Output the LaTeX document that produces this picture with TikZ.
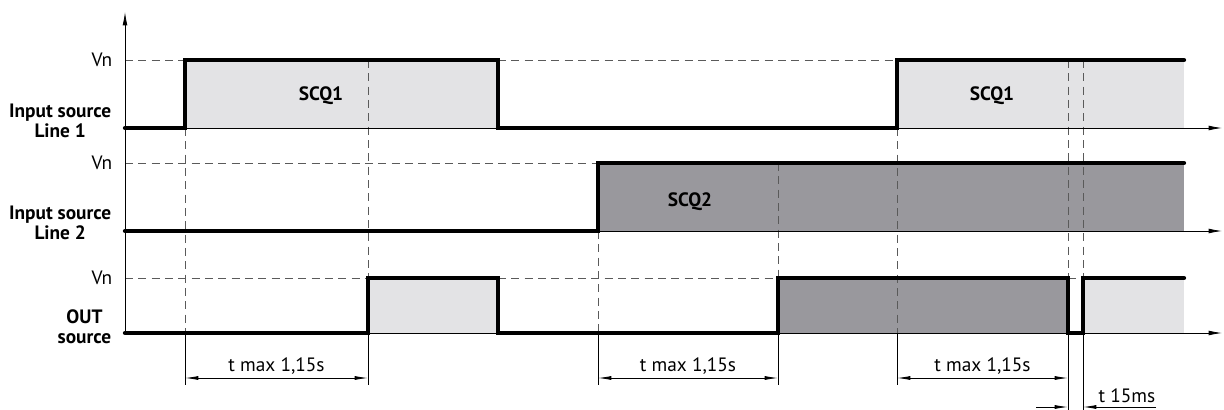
\documentclass[tikz,border=0pt]{standalone}
\usepackage{fontspec}
\setmainfont{PT Sans}
\usetikzlibrary{arrows.meta,calc}
\definecolor{scqlight}{HTML}{E3E3E5}
\definecolor{scqdark}{HTML}{99989D}
\definecolor{guidegray}{HTML}{5A5A5A}

\begin{document}
\begin{tikzpicture}[x=0.75pt,y=-0.75pt,
  sig/.style={line width=3.2pt,line cap=round,line join=miter},
  axisline/.style={line width=0.6pt,-{Latex[length=10pt,width=3.6pt]}},
  guide/.style={guidegray,line width=0.6pt,dash pattern=on 6pt off 4pt},
  extline/.style={line width=0.5pt},
  dimline/.style={line width=0.6pt,{Latex[length=10pt,width=3pt]}-{Latex[length=10pt,width=3pt]}},
  dimtip/.style={line width=0.6pt,-{Latex[length=10pt,width=3pt]}},
  lbl/.style={font=\fontsize{14.5}{15}\selectfont},
  bl/.style={font=\fontsize{14.5}{15}\selectfont\bfseries,align=center,anchor=east}]
\useasboundingbox (0,0) rectangle (1224,410);
% time marks
\def\xo{125}
\def\xa{185}
\def\xb{368}
\def\xc{498}
\def\xd{598}
\def\xe{778}
\def\xf{897}
\def\xg{1068}
\def\xh{1083}
\def\xz{1184}
% levels (low / Vn) for each trace
\def\loA{128}
\def\hiA{60}
\def\loB{231}
\def\hiB{163}
\def\loC{333}
\def\hiC{278}
\def\ydim{378}
% fills
\fill[scqlight] (\xa,\hiA) rectangle (\xc,\loA);
\fill[scqlight] (\xf,\hiA) rectangle (\xz,\loA);
\fill[scqdark] (\xd,\hiB) rectangle (\xz,\loB);
\fill[scqlight] (\xb,\hiC) rectangle (\xc,\loC);
\fill[scqdark] (\xe,\hiC) rectangle (\xg,\loC);
\fill[scqlight] (\xh,\hiC) rectangle (\xz,\loC);
% Vn guides
\foreach \xs/\xt/\yy in {\xo/\xa/\hiA,\xc/\xf/\hiA,\xo/\xd/\hiB,\xo/\xb/\hiC,\xc/\xe/\hiC,\xg/\xh/\hiC}{
	\draw[guide] (\xs,\yy) -- (\xt,\yy);
}
% time guides
\foreach \xx/\ys/\ye in {\xa/\loA/\ydim,\xb/\hiA/\ydim,\xd/\loB/\ydim,\xe/\hiB/\ydim,\xf/\loA/\ydim,\xg/\hiA/410,\xh/\hiA/410}{
	\draw[guide] (\xx,\ys) -- (\xx,\loC);
	\draw[extline] (\xx,\loC) -- (\xx,\ye+7);
}
% axes
\draw[axisline] (\xo,\loC) -- (\xo,12);
\foreach \yy in {\loA,\loB,\loC}{
	\draw[axisline] (\xo,\yy) -- (1222,\yy);
}
% traces
\draw[sig] (\xo,\loA) -- (\xa,\loA) -- (\xa,\hiA) -- (\xc,\hiA) -- (\xc,\loA) -- (\xf,\loA) -- (\xf,\hiA) -- (\xz,\hiA);
\draw[sig] (\xo,\loB) -- (\xd,\loB) -- (\xd,\hiB) -- (\xz,\hiB);
\draw[sig] (\xo,\loC) -- (\xb,\loC) -- (\xb,\hiC) -- (\xc,\hiC) -- (\xc,\loC) -- (\xe,\loC) -- (\xe,\hiC) -- (\xg,\hiC) -- (\xg,\loC) -- (\xh,\loC) -- (\xh,\hiC) -- (\xz,\hiC);
% labels
\node[lbl,anchor=east] (vnA) at (117,\hiA) {Vn};
\node[lbl,anchor=east] (vnB) at (117,\hiB) {Vn};
\node[lbl,anchor=east] (vnC) at (117,\hiC) {Vn};
\node[bl] (lineA) at (116,121) {Input source\\Line 1};
\node[bl] (lineB) at (116,223) {Input source\\Line 2};
\node[bl] (outC) at (116,327) {OUT\\source};
\node[lbl,font=\fontsize{14.5}{15}\selectfont\bfseries] (scqA) at (321,96) {SCQ1};
\node[lbl,font=\fontsize{14.5}{15}\selectfont\bfseries] (scqB) at (992,96) {SCQ1};
\node[lbl,font=\fontsize{14.5}{15}\selectfont\bfseries] (scqC) at (690,202) {SCQ2};
% delays
\coordinate (dA) at (\xa,\ydim);
\coordinate (dB) at (\xb,\ydim);
\coordinate (dC) at (\xd,\ydim);
\coordinate (dD) at (\xe,\ydim);
\coordinate (dE) at (\xf,\ydim);
\coordinate (dF) at (\xg,\ydim);
\draw[dimline] (dA) -- node[lbl,above=-1pt] (tA) {t max 1,15s} (dB);
\draw[dimline] (dC) -- node[lbl,above=-1pt] (tB) {t max 1,15s} (dD);
\draw[dimline] (dE) -- node[lbl,above=-1pt] (tC) {t max 1,15s} (dF);
\coordinate (gL) at (1036,407);
\coordinate (gA) at (\xg,407);
\coordinate (gB) at (\xh,407);
\coordinate (gR) at (1156,407);
\draw[dimtip] (gL) -- (gA);
\draw[dimtip] (gR) -- (gB);
\node[lbl,anchor=base] (tD) at (1127,402) {t 15ms};
\end{tikzpicture}
\end{document}
